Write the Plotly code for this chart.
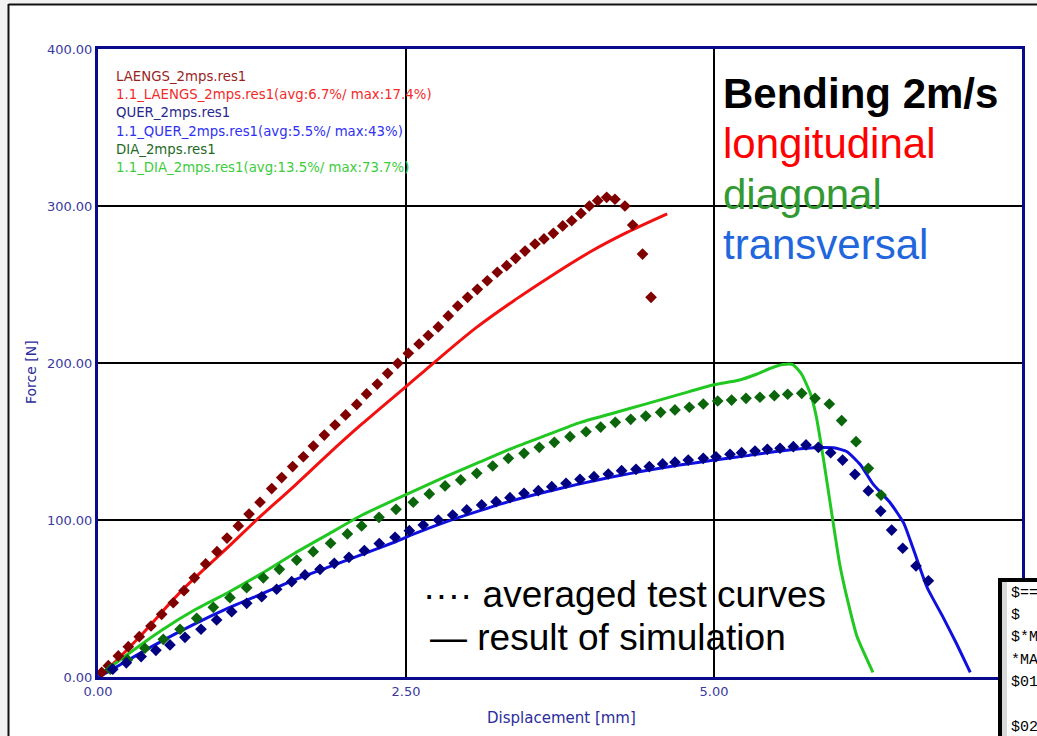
import plotly.graph_objects as go

# ---------------- data ----------------
x_ticks = [0, 2.5, 5, 7.5]
x_ticktext = ["0.00", "2.50", "5.00", "7.50"]
y_ticks = [0, 100, 200, 300, 400]
y_ticktext = ["0.00", "100.00", "200.00", "300.00", "400.00"]

laengs_test_x = [0.03, 0.084, 0.165, 0.246, 0.335, 0.430, 0.517, 0.611, 0.698, 0.782, 0.874, 0.966,
                 1.047, 1.139, 1.226, 1.315, 1.41, 1.491, 1.58, 1.667, 1.748, 1.837, 1.924, 2.01,
                 2.10, 2.18, 2.267, 2.351, 2.433, 2.519, 2.606, 2.681, 2.762, 2.843, 2.92, 3.0,
                 3.079, 3.16, 3.241, 3.317, 3.39, 3.466, 3.547, 3.62, 3.696, 3.772, 3.845, 3.92,
                 3.988, 4.056, 4.129, 4.196, 4.277, 4.34, 4.42, 4.489]
laengs_test_y = [3, 7.2, 13.4, 19.3, 25.7, 32.5, 39.9, 47.3, 55, 63.2, 72, 79.8,
                 88.5, 96.2, 103.8, 111.3, 120, 127, 134, 140.3, 147.1, 154.1, 160.5, 166.9,
                 173.6, 180.3, 186.6, 193.4, 199.8, 206.2, 212.1, 217.5, 223, 230, 236.3, 241.8,
                 246.9, 252.4, 257.8, 262, 266.7, 271.3, 275.8, 279, 282.6, 287.3, 290.6, 295.3,
                 300, 303.4, 305.5, 304.3, 300, 287.9, 269.4, 241.8]

laengs_sim_x = [0, 0.05, 0.33, 0.68, 1.06, 1.3, 1.57, 1.87, 2.14, 2.5, 2.65, 3.07, 3.4, 3.67,
                4.0, 4.29, 4.62]
laengs_sim_y = [0, 3, 25, 55, 83, 101, 120, 142, 161, 185, 195, 222.5, 241, 255,
                271, 283, 295]

dia_test_x = [0.1, 0.24, 0.381, 0.53, 0.666, 0.801, 0.936, 1.071, 1.207, 1.342, 1.472, 1.613,
              1.747, 1.888, 2.024, 2.14, 2.281, 2.419, 2.559, 2.689, 2.817, 2.944, 3.074, 3.204,
              3.331, 3.458, 3.582, 3.704, 3.831, 3.961, 4.08, 4.199, 4.324, 4.446, 4.567, 4.683,
              4.8, 4.913, 5.03, 5.143, 5.26, 5.373, 5.49, 5.598, 5.712, 5.82, 5.936, 6.036,
              6.153, 6.253, 6.356]
dia_test_y = [5, 11, 18.3, 24, 30.4, 37.4, 44.4, 50.5, 56.9, 63.2, 68.6, 74.5,
              79.8, 85.2, 91.1, 96.2, 101.7, 106.8, 111.3, 116.6, 121.7, 125.5, 129.7, 134.4,
              139.3, 142.5, 146.3, 149.5, 153.1, 156.2, 159.2, 162.2, 164.1, 166.2, 168.6, 170.1,
              171.8, 173.9, 175.8, 176.4, 177.5, 178.2, 179.2, 180.1, 180.7, 177.5, 173.9, 163.3,
              149.9, 132.9, 115.9]

dia_sim_x = [0, 0.03, 0.25, 0.52, 0.79, 1.06, 1.33, 1.6, 1.87, 2.14, 2.41, 2.83, 3.1, 3.37,
             3.64, 3.91, 4.18, 4.45, 4.72, 4.99, 5.2, 5.35, 5.47, 5.56, 5.64, 5.71, 5.78, 5.83,
             5.89, 5.96, 6.02, 6.09, 6.16, 6.29]
dia_sim_y = [0, 2, 15, 30, 43, 54, 66, 79, 91, 103, 113, 128, 137, 146,
             154, 162, 168, 174, 180, 186, 189, 193, 197, 199, 199, 193, 181, 166,
             138, 102, 72, 47, 26, 3]

quer_test_x = [0.12, 0.23, 0.35, 0.47, 0.584, 0.706, 0.836, 0.963, 1.085, 1.207, 1.329, 1.45,
               1.572, 1.68, 1.802, 1.918, 2.037, 2.162, 2.283, 2.411, 2.527, 2.64, 2.762, 2.879,
               2.993, 3.114, 3.231, 3.344, 3.458, 3.574, 3.683, 3.799, 3.912, 4.026, 4.142, 4.25,
               4.367, 4.475, 4.583, 4.683, 4.791, 4.913, 5.016, 5.13, 5.224, 5.333, 5.433, 5.536,
               5.644, 5.747, 5.847, 5.947, 6.044, 6.144, 6.253, 6.353, 6.442, 6.532, 6.64, 6.74]
quer_test_y = [5, 9, 13, 17, 20.4, 25.3, 30.4, 36.3, 41.6, 46.9, 51.1, 55.9,
               60.7, 65, 68.6, 72.4, 76.2, 80.5, 85, 89, 93.2, 96.8, 100, 103.2,
               106.4, 109.6, 111.7, 114.2, 117, 118.7, 121.2, 123.4, 125.9, 127.6, 129.3, 131.4,
               132.3, 134, 135.7, 136.8, 138.2, 139.3, 140.3, 141.8, 142.9, 143.9, 145, 145.7,
               146.7, 147.8, 146.3, 142.9, 138.2, 129.1, 118.5, 105.7, 93.6, 82, 70.7, 61.3]

quer_sim_x = [0, 0.03, 0.25, 0.52, 0.79, 1.06, 1.33, 1.6, 1.87, 2.14, 2.41, 2.56, 2.83, 3.1,
              3.37, 3.64, 3.91, 4.18, 4.45, 4.72, 4.99, 5.27, 5.54, 5.81, 5.97, 6.08, 6.19,
              6.29, 6.43, 6.54, 6.62, 6.73, 6.86, 6.97, 7.08]
quer_sim_y = [0, 1, 11, 23, 34, 44, 53, 62, 70, 78, 86, 91, 99, 106,
              112.5, 118, 123, 127.5, 131.5, 135, 138, 141, 144, 146, 146, 143.5, 135,
              123, 111, 98, 81, 57, 38, 21, 3]

legend_lines = ["LAENGS_2mps.res1",
                "1.1_LAENGS_2mps.res1(avg:6.7%/ max:17.4%)",
                "QUER_2mps.res1",
                "1.1_QUER_2mps.res1(avg:5.5%/ max:43%)",
                "DIA_2mps.res1",
                "1.1_DIA_2mps.res1(avg:13.5%/ max:73.7%)"]
legend_colors = ["#9a1f1f", "#f42a2a", "#26268f", "#3030f5", "#1f6a1f", "#3ccc3c"]

title_lines = ["<b>Bending 2m/s</b>", "longitudinal", "diagonal", "transversal"]
title_colors = ["#000000", "#ff0000", "#339933", "#2266dd"]

code_lines = ["$==========", "$", "$*MAT", "*MAT_", "$01234", "", "$02345"]

# ---------------- layout geometry ----------------
W, H = 1037, 736
L, R, T, B = 98, 15, 49, 59
PW = W - L - R
PH = H - T - B


def px(x):
    return (x - L) / PW


def py(y):
    return (H - B - y) / PH


fig = go.Figure()

# simulation curves (solid)
fig.add_trace(go.Scatter(x=laengs_sim_x, y=laengs_sim_y, mode="lines",
                         line=dict(color="#f21010", width=3, shape="spline", smoothing=1.0),
                         showlegend=False))
fig.add_trace(go.Scatter(x=dia_sim_x, y=dia_sim_y, mode="lines",
                         line=dict(color="#22c822", width=3, shape="spline", smoothing=0.5),
                         showlegend=False))
fig.add_trace(go.Scatter(x=quer_sim_x, y=quer_sim_y, mode="lines",
                         line=dict(color="#0f0fe0", width=3, shape="spline", smoothing=0.5),
                         showlegend=False))
# averaged test curves (diamonds)
fig.add_trace(go.Scatter(x=laengs_test_x, y=laengs_test_y, mode="markers",
                         marker=dict(symbol="diamond", size=9, color="#800000"), showlegend=False))
fig.add_trace(go.Scatter(x=dia_test_x, y=dia_test_y, mode="markers",
                         marker=dict(symbol="diamond", size=9, color="#0b650b"), showlegend=False))
fig.add_trace(go.Scatter(x=quer_test_x, y=quer_test_y, mode="markers",
                         marker=dict(symbol="diamond", size=9, color="#000080"), showlegend=False))

axis_common = dict(showgrid=True, gridcolor="#000000", gridwidth=1.5,
                   showline=True, linecolor="#0a0a8c", linewidth=3, mirror=True,
                   zeroline=False, ticks="", automargin=False,
                   tickfont=dict(family="DejaVu Sans", size=13, color="#3a3aa0"))

fig.update_layout(
    width=W, height=H, autosize=False,
    margin=dict(l=L, r=R, t=T, b=B, autoexpand=False),
    paper_bgcolor="white", plot_bgcolor="white",
    xaxis=dict(range=[0, 7.5], tickvals=x_ticks, ticktext=x_ticktext, **axis_common),
    yaxis=dict(range=[0, 400], tickvals=y_ticks, ticktext=y_ticktext, **axis_common),
)

shapes = []
# outer page frame
shapes.append(dict(type="rect", xref="paper", yref="paper", x0=px(-5), x1=px(8), y0=py(-5), y1=py(745),
                   fillcolor="#f2f2f2", line=dict(width=0), layer="above"))
shapes.append(dict(type="rect", xref="paper", yref="paper", x0=px(-5), x1=px(1045), y0=py(-5), y1=py(4),
                   fillcolor="#f2f2f2", line=dict(width=0), layer="above"))
shapes.append(dict(type="line", xref="paper", yref="paper", x0=px(8.5), x1=px(8.5), y0=py(4), y1=py(745),
                   line=dict(color="#111111", width=2), layer="above"))
shapes.append(dict(type="line", xref="paper", yref="paper", x0=px(8.5), x1=px(1045), y0=py(4.5), y1=py(4.5),
                   line=dict(color="#111111", width=2), layer="above"))
# code box bottom right
shapes.append(dict(type="rect", xref="paper", yref="paper", x0=px(1000), x1=px(1060), y0=py(580), y1=py(760),
                   fillcolor="white", line=dict(color="#000000", width=4), layer="above"))
shapes.append(dict(type="rect", xref="paper", yref="paper", x0=px(1002), x1=px(1007), y0=py(582), y1=py(760),
                   fillcolor="#d8d8d8", line=dict(width=0), layer="above"))
fig.update_layout(shapes=shapes)

ann = []
# axis titles
ann.append(dict(text="Displacement [mm]", x=px(561), y=py(718), xref="paper", yref="paper",
                showarrow=False, xanchor="center", yanchor="middle",
                font=dict(family="DejaVu Sans", size=15, color="#2c2c9c")))
ann.append(dict(text="Force [N]", x=px(31), y=py(372), xref="paper", yref="paper",
                showarrow=False, xanchor="center", yanchor="middle", textangle=-90,
                font=dict(family="DejaVu Sans", size=14, color="#2c2c9c")))
# series legend text
for i, (t, c) in enumerate(zip(legend_lines, legend_colors)):
    ann.append(dict(text=t, x=px(114), y=py(76.7 + 18.1 * i), xref="paper", yref="paper",
                    showarrow=False, xanchor="left", yanchor="middle",
                    font=dict(family="DejaVu Sans", size=13.3, color=c)))
# big title block
for i, (t, c) in enumerate(zip(title_lines, title_colors)):
    ann.append(dict(text=t, x=px(721), y=py(93 + 50.5 * i), xref="paper", yref="paper",
                    showarrow=False, xanchor="left", yanchor="middle",
                    font=dict(family="Liberation Sans, Arial", size=42, color=c)))
# line-style explanation
ann.append(dict(text="\u00b7\u00b7\u00b7\u00b7 averaged test curves", x=px(421), y=py(594),
                xref="paper", yref="paper", showarrow=False, xanchor="left", yanchor="middle",
                font=dict(family="Liberation Sans, Arial", size=37, color="#000000")))
ann.append(dict(text="\u2014 result of simulation", x=px(428), y=py(637),
                xref="paper", yref="paper", showarrow=False, xanchor="left", yanchor="middle",
                font=dict(family="Liberation Sans, Arial", size=37, color="#000000")))
# code box text
for i, t in enumerate(code_lines):
    if t:
        ann.append(dict(text=t, x=px(1009), y=py(593 + 22.4 * i), xref="paper", yref="paper",
                        showarrow=False, xanchor="left", yanchor="middle",
                        font=dict(family="Liberation Mono, DejaVu Sans Mono", size=15, color="#000000")))
fig.update_layout(annotations=ann)

fig.write_html("out.html", config={"displayModeBar": False},
               post_script="document.body.style.margin='0';")
